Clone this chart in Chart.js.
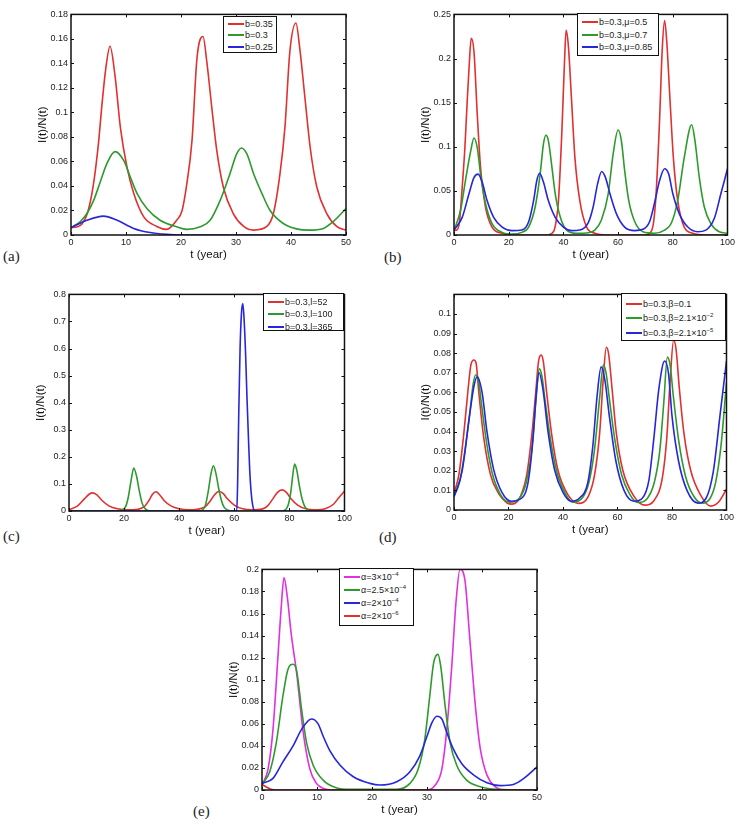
<!DOCTYPE html>
<html>
<head>
<meta charset="utf-8">
<script src="https://cdn.jsdelivr.net/npm/chart.js@4.4.0/dist/chart.umd.min.js"></script>
<style>
body{margin:0;background:#fff;width:744px;height:827px;position:relative;overflow:hidden;font-family:"Liberation Sans",Arial,sans-serif}
.panel{position:absolute}
.lg{position:absolute;border:1.4px solid #111;background:#fff;font-size:9px;color:#222;box-sizing:border-box;padding-left:4px}
.lg div{display:flex;align-items:center;white-space:nowrap}
.lg .sw{display:inline-block;width:16px;height:1.6px;margin-right:1px}
.lg sup{font-size:6px;vertical-align:4px;line-height:0}
.tag{position:absolute;font-family:"Liberation Serif",serif;font-size:15px;line-height:15px;color:#222}
</style>
</head>
<body>
<script>
// (a) b = 0.35 / 0.3 / 0.25, t in years
var aLabels = ['b=0.35', 'b=0.3', 'b=0.25'];
var aRedT = [0,1,2,3,4,5,5.6,6.3,7.1,8,9,10.2,11.4,13.2,15.6,17.4,19.2,20.2,21,22,22.9,24,24.7,25.6,26.5,27.7,29.5,31.4,33.2,35.6,36.8,38,38.9,39.8,40.9,41.6,42.6,43.5,44.7,46.5,48.3,50];
var aRedY = [0.006,0.0065,0.009,0.018,0.039,0.075,0.105,0.135,0.154,0.13,0.087,0.055,0.034,0.015,0.007,0.0046,0.012,0.02,0.04,0.077,0.144,0.162,0.141,0.104,0.069,0.039,0.0175,0.007,0.004,0.007,0.0175,0.05,0.088,0.15,0.173,0.152,0.109,0.071,0.039,0.0175,0.007,0.004];
var aGreenT = [0,1.7,2.9,4.1,5.3,6.5,8,9.6,10.8,12,13.8,16.2,19.2,21,23.5,25.3,27.1,28.9,30.1,31,32,33.2,34.7,36.2,38.6,41,43.2,45.9,47.7,50];
var aGreenY = [0.006,0.011,0.0175,0.028,0.043,0.058,0.068,0.0606,0.047,0.034,0.0216,0.012,0.0067,0.0046,0.0067,0.012,0.028,0.05,0.066,0.071,0.066,0.05,0.034,0.02,0.0094,0.005,0.004,0.0054,0.011,0.0216];
var aBlueT = [0,2.9,5.9,8.4,11.4,14.4,17.4,20,50];
var aBlueY = [0.006,0.012,0.0154,0.012,0.0054,0.002,0.0005,0,0];

// (b) b = 0.3, mu = 0.5 / 0.7 / 0.85
var bLabels = ['b=0.3,\u03bc=0.5', 'b=0.3,\u03bc=0.7', 'b=0.3,\u03bc=0.85'];
var bRedT = [0,1.2,2,3,4,4.8,5.6,6.3,7.3,8.5,9.7,11.5,13.9,17.6,22,34,36.4,37.3,38.2,39.4,40.4,41,41.8,43,44.2,46,48.5,51.5,56,70,72.1,73,73.9,75.2,76.1,77,77.8,79,80.2,81.8,84.2,87.3,92,100];
var bRedY = [0.005,0.006,0.015,0.054,0.1,0.15,0.195,0.223,0.208,0.137,0.077,0.032,0.009,0.002,0,0,0.004,0.015,0.039,0.114,0.196,0.232,0.215,0.152,0.088,0.039,0.009,0.002,0,0,0.004,0.015,0.047,0.133,0.208,0.243,0.219,0.152,0.088,0.039,0.009,0.002,0,0];
var bGreenT = [0,2.4,4.2,6.1,7.3,8.5,9.7,11.5,13.9,17.6,21.2,24.8,27.3,29.7,31.5,32.7,33.6,34.5,35.8,37,38.8,41.2,44.8,49.1,51.5,53.9,56.4,58.2,60,61.2,62.4,63.9,66.1,69.1,73.3,77,79.4,81.8,84.2,86.9,88.1,89.7,91.5,93.9,97,100];
var bGreenY = [0.005,0.028,0.062,0.095,0.11,0.099,0.069,0.036,0.013,0.003,0.001,0.003,0.009,0.032,0.069,0.103,0.113,0.107,0.077,0.047,0.021,0.0056,0.002,0.0026,0.0056,0.017,0.047,0.092,0.119,0.107,0.073,0.039,0.015,0.0037,0.002,0.0056,0.013,0.039,0.088,0.125,0.107,0.065,0.032,0.013,0.0037,0.002];
var bBlueT = [0,3,5.5,7.3,8.8,10.3,12.1,14.5,17.6,21.2,24.8,27.3,29.1,30.3,31.3,32.7,34.5,37,40,43,46,49.1,50.9,52.5,54,55.4,57,59.4,62.4,66.1,69.1,71.5,73.3,75.2,77,78.5,80,82.4,85.5,89.1,92.1,95.2,97.6,100];
var bBlueY = [0.0056,0.02,0.047,0.065,0.069,0.06,0.039,0.02,0.009,0.005,0.0056,0.015,0.039,0.062,0.07,0.06,0.039,0.02,0.009,0.005,0.0056,0.014,0.032,0.058,0.072,0.065,0.047,0.024,0.009,0.005,0.0064,0.015,0.036,0.062,0.075,0.069,0.047,0.024,0.009,0.0037,0.0056,0.019,0.047,0.075];

// (c) b = 0.3, l = 52 / 100 / 365
var cLabels = ['b=0.3,l=52', 'b=0.3,l=100', 'b=0.3,l=365'];
var cRedT = [0,3,5.5,7.3,8.7,10.3,12.1,14.5,17.6,21,25,27.3,29.1,30.3,31.6,32.9,34.5,37,40,43.5,46.5,49.5,51.2,53,54.5,56,57.5,60,63,66.5,70,72,73.8,75.6,77.3,79,80.5,83,86,90,93,96,98,100];
var cRedY = [0.005,0.018,0.044,0.062,0.067,0.058,0.038,0.019,0.008,0.004,0.006,0.016,0.04,0.062,0.071,0.06,0.039,0.019,0.008,0.004,0.006,0.016,0.036,0.062,0.073,0.064,0.045,0.022,0.008,0.004,0.007,0.018,0.042,0.068,0.078,0.068,0.046,0.022,0.008,0.004,0.008,0.025,0.05,0.073];
var cGreenT = [0,17,19,20.5,21.5,22.5,23.5,24.5,25.5,26.5,27.5,29,47,48.5,49.5,50.5,51.5,52.4,53.3,54.3,55.3,56.3,57.5,59,77,78.5,79.5,80.5,81.2,81.9,82.7,83.6,84.6,85.6,86.8,88.5,100];
var cGreenY = [0,0,0.003,0.015,0.05,0.11,0.159,0.13,0.075,0.03,0.01,0.001,0,0.004,0.02,0.07,0.135,0.167,0.14,0.085,0.04,0.014,0.004,0,0,0.004,0.02,0.07,0.13,0.173,0.15,0.095,0.045,0.016,0.004,0,0];
var cBlueT = [0,60.9,61.2,61.6,62.1,62.6,63.1,63.6,64.1,64.6,65.1,65.6,66.1,66.7,67.5,100];
var cBlueY = [0,0,0.1,0.35,0.6,0.73,0.766,0.7,0.58,0.42,0.28,0.15,0.07,0.02,0,0];

// (d) b = 0.3, beta = 0.1 / 2.1e-2 / 2.1e-5
var dLabels = ['b=0.3,\u03b2=0.1', 'b=0.3,\u03b2=2.1\u00d710^-2', 'b=0.3,\u03b2=2.1\u00d710^-5'];
var dRedT = [0,1.8,3.6,5.2,6.2,7.3,8.1,9.1,10.9,13.4,16.4,19.4,21.3,24.3,26.7,28.6,30,31,32,32.8,34,35.8,38.2,41.9,45.6,49.2,51.6,53.5,54.7,55.9,56.7,58,59.5,62,66.2,69.9,73.5,76.5,78.1,79.3,80.6,81.5,82.7,84.4,86.9,90.5,94.2,97.2,100];
var dRedY = [0.0084,0.018,0.039,0.062,0.074,0.0765,0.075,0.06,0.037,0.018,0.0084,0.0037,0.003,0.0067,0.018,0.039,0.06,0.0756,0.079,0.0756,0.06,0.039,0.02,0.0076,0.0034,0.0067,0.018,0.04,0.0655,0.083,0.08,0.062,0.04,0.02,0.0067,0.0025,0.005,0.0168,0.037,0.0655,0.0866,0.082,0.062,0.039,0.02,0.0076,0.002,0.0042,0.0106];
var dGreenT = [0,2,4,6,7,8,9,10,12,14,17,20.5,24,26.5,28.5,30,31.3,32.3,33.5,35.5,38,41,43.5,47,49.5,51.5,53.5,54.8,55.8,57,59,61.5,64.5,67.5,71,73.5,75.5,77,78.3,79.3,80.5,82.5,85,88,91,94,96,98,100];
var dGreenY = [0.007,0.014,0.03,0.052,0.064,0.069,0.066,0.055,0.034,0.019,0.008,0.004,0.006,0.014,0.03,0.055,0.072,0.068,0.055,0.035,0.018,0.008,0.004,0.006,0.014,0.03,0.058,0.074,0.07,0.057,0.036,0.018,0.008,0.0038,0.006,0.014,0.03,0.055,0.078,0.074,0.058,0.035,0.017,0.007,0.0035,0.006,0.014,0.033,0.065];
var dBlueT = [0,3,5.5,7.3,8.5,10.3,12.1,14.5,17.6,21,24.8,27.3,29.1,30.3,31.2,32.7,34.5,37,40,43,46,49.1,50.9,52.5,54,55.4,57,59.4,62.4,66,69.1,71.5,73.3,75.2,77.3,78.7,80,82.4,85.5,89.5,92.5,95.2,97.6,100];
var dBlueY = [0.0067,0.02,0.046,0.063,0.068,0.06,0.04,0.021,0.009,0.0045,0.006,0.015,0.038,0.061,0.07,0.061,0.04,0.02,0.009,0.0045,0.006,0.014,0.032,0.058,0.073,0.066,0.048,0.025,0.01,0.0045,0.006,0.015,0.036,0.062,0.076,0.07,0.048,0.025,0.01,0.0035,0.006,0.02,0.048,0.076];

// (e) alpha = 3e-4 / 2.5e-4 / 2e-4 / 2e-6
var eLabels = ['\u03b1=3\u00d710^-4', '\u03b1=2.5\u00d710^-4', '\u03b1=2\u00d710^-4', '\u03b1=2\u00d710^-6'];
var eMagT = [0,1.1,2,2.9,3.5,4,4.6,5.3,6.3,7.5,8.7,9.9,11.1,13,30,31.5,32.7,33.6,34.5,35.3,36,36.9,37.8,38.8,39.7,40.9,42.4,44,50];
var eMagY = [0.0045,0.019,0.055,0.121,0.166,0.1925,0.175,0.142,0.106,0.052,0.019,0.006,0.0015,0,0,0.0045,0.019,0.055,0.112,0.172,0.2,0.19,0.136,0.076,0.037,0.0135,0.003,0,0];
var eGreenT = [0,1.4,2.6,3.8,4.7,5.65,6.3,7.2,8.1,9.3,11.1,13.5,16,24.5,26.9,28.4,29.6,30.5,31.2,32,32.5,33.3,34.2,35.4,37.2,39.7,42.7,50];
var eGreenY = [0.005,0.0165,0.043,0.085,0.109,0.114,0.108,0.073,0.043,0.0225,0.009,0.002,0.0006,0.0006,0.006,0.019,0.046,0.085,0.115,0.123,0.112,0.076,0.043,0.0225,0.009,0.003,0.0006,0];
var eBlueT = [0,2,3.8,5.65,7.2,9,10.2,11.1,12.3,14.2,16.6,19.6,21.4,24.5,26.9,28.7,29.95,30.9,31.8,32.7,33.6,34.8,36.3,38.5,40.9,43.3,45.7,47.6,50];
var eBlueY = [0.006,0.0105,0.0255,0.04,0.055,0.0644,0.06,0.049,0.036,0.0225,0.012,0.006,0.0045,0.0075,0.0165,0.031,0.048,0.061,0.0668,0.0644,0.052,0.037,0.024,0.0135,0.0066,0.004,0.005,0.0105,0.021];
var eRedT = [0,0.7,1.5,2.5,50];
var eRedY = [0.005,0.003,0.001,0,0];

var red = '#e03030', green = '#2e9a2e', blue = '#2626da', magenta = '#e030e0';

function pts(t, y) {
    return t.map(function(v, i) { return {x: v, y: y[i]}; });
}

function fmtLabel(s) {
    return s.replace(/\^([-0-9]+)/g, function(m, p) { return '<sup>' + p.replace('-', '\u2212') + '</sup>'; });
}

// MATLAB style box with inward ticks on all four sides
var framePlugin = {
    id: 'frame',
    afterDraw: function(chart) {
        var a = chart.chartArea, ctx = chart.ctx, len = 3;
        var xs = chart.scales.x, ys = chart.scales.y;
        ctx.save();
        ctx.strokeStyle = '#111';
        ctx.lineWidth = 1;
        ctx.beginPath();
        xs.ticks.forEach(function(t) {
            var px = Math.round(xs.getPixelForValue(t.value)) + 0.5;
            ctx.moveTo(px, a.bottom); ctx.lineTo(px, a.bottom - len);
            ctx.moveTo(px, a.top); ctx.lineTo(px, a.top + len);
        });
        ys.ticks.forEach(function(t) {
            var py = Math.round(ys.getPixelForValue(t.value)) + 0.5;
            ctx.moveTo(a.left, py); ctx.lineTo(a.left + len, py);
            ctx.moveTo(a.right, py); ctx.lineTo(a.right - len, py);
        });
        ctx.stroke();
        ctx.lineWidth = 1.5;
        ctx.strokeRect(a.left, a.top, a.right - a.left, a.bottom - a.top);
        ctx.restore();
    }
};

var tickFont = {family: 'Liberation Sans', size: 9};
var titleFont = {family: 'Liberation Sans', size: 11.5};

function makePanel(p) {
    var padL = 42, padT = 6, padR = 8, padB = 30;
    var w = p.box[2] - p.box[0], h = p.box[3] - p.box[1];
    var div = document.createElement('div');
    div.className = 'panel';
    div.style.left = (p.box[0] - padL) + 'px';
    div.style.top = (p.box[1] - padT) + 'px';
    div.style.width = (w + padL + padR) + 'px';
    div.style.height = (h + padT + padB) + 'px';
    var cv = document.createElement('canvas');
    div.appendChild(cv);
    document.body.appendChild(div);

    new Chart(cv, {
        type: 'line',
        data: {
            datasets: p.series.map(function(s) {
                return {
                    label: s.label,
                    data: pts(s.t, s.y),
                    borderColor: s.color,
                    borderWidth: 1.6,
                    pointRadius: 0,
                    fill: false,
                    cubicInterpolationMode: 'monotone',
                    order: s.order
                };
            })
        },
        options: {
            responsive: true,
            maintainAspectRatio: false,
            animation: false,
            layout: {padding: {left: 0, top: padT, right: padR, bottom: 0}},
            plugins: {legend: {display: false}, tooltip: {enabled: false}},
            scales: {
                x: {
                    type: 'linear', min: 0, max: p.xMax,
                    ticks: {stepSize: p.xStep, color: '#222', font: tickFont, padding: 2, maxRotation: 0, autoSkip: false},
                    grid: {display: false, drawTicks: false},
                    border: {display: false},
                    title: {display: true, text: 't (year)', color: '#111', font: titleFont, padding: {top: 0, bottom: 3}},
                    afterFit: function(s) { s.height = padB; }
                },
                y: {
                    type: 'linear', min: 0, max: p.yMax,
                    ticks: {
                        stepSize: p.yStep, color: '#222', font: tickFont, padding: 3, autoSkip: false,
                        callback: function(v) { return v > p.yLabelMax + 1e-9 ? '' : String(+v.toFixed(3)); }
                    },
                    grid: {display: false, drawTicks: false},
                    border: {display: false},
                    title: {display: true, text: 'I(t)/N(t)', color: '#111', font: titleFont, padding: {top: 7, bottom: 0}},
                    afterFit: function(s) { s.width = padL; }
                }
            }
        },
        plugins: [framePlugin]
    });

    var lg = document.createElement('div');
    lg.className = 'lg';
    lg.style.left = p.legend[0] + 'px';
    lg.style.top = p.legend[1] + 'px';
    lg.style.width = p.legend[2] + 'px';
    lg.style.height = p.legend[3] + 'px';
    lg.style.paddingTop = p.legend[5] + 'px';
    p.series.forEach(function(s) {
        var row = document.createElement('div');
        row.style.height = p.legend[4] + 'px';
        row.innerHTML = '<span class="sw" style="background:' + s.color + '"></span><span>' + fmtLabel(s.label) + '</span>';
        lg.appendChild(row);
    });
    document.body.appendChild(lg);

    var tag = document.createElement('div');
    tag.className = 'tag';
    tag.style.left = p.tag[0] + 'px';
    tag.style.top = (p.tag[1] - 8) + 'px';
    tag.textContent = p.tag[2];
    document.body.appendChild(tag);
}

makePanel({
    box: [71, 12, 346, 235], xMax: 50, xStep: 10, yMax: 0.18, yStep: 0.02, yLabelMax: 0.18,
    legend: [223, 16, 54, 37, 11.5, 1], tag: [3, 257, '(a)'],
    series: [
        {label: aLabels[0], t: aRedT, y: aRedY, color: red, order: 2},
        {label: aLabels[1], t: aGreenT, y: aGreenY, color: green, order: 1},
        {label: aLabels[2], t: aBlueT, y: aBlueY, color: blue, order: 0}
    ]
});
makePanel({
    box: [454, 12, 729, 235], xMax: 100, xStep: 20, yMax: 0.25, yStep: 0.05, yLabelMax: 0.25,
    legend: [577, 13, 82, 43, 12.5, 2], tag: [384, 258, '(b)'],
    series: [
        {label: bLabels[0], t: bRedT, y: bRedY, color: red, order: 2},
        {label: bLabels[1], t: bGreenT, y: bGreenY, color: green, order: 1},
        {label: bLabels[2], t: bBlueT, y: bBlueY, color: blue, order: 0}
    ]
});
makePanel({
    box: [69, 292, 346, 511], xMax: 100, xStep: 20, yMax: 0.8, yStep: 0.1, yLabelMax: 0.8,
    legend: [263, 293, 81, 38, 12.5, 1.5], tag: [3, 537, '(c)'],
    series: [
        {label: cLabels[0], t: cRedT, y: cRedY, color: red, order: 2},
        {label: cLabels[1], t: cGreenT, y: cGreenY, color: green, order: 1},
        {label: cLabels[2], t: cBlueT, y: cBlueY, color: blue, order: 0}
    ]
});
makePanel({
    box: [454, 292, 728, 510], xMax: 100, xStep: 20, yMax: 0.11, yStep: 0.01, yLabelMax: 0.1,
    legend: [621, 293, 105, 48, 14.5, 2.5], tag: [379, 538, '(d)'],
    series: [
        {label: dLabels[0], t: dRedT, y: dRedY, color: red, order: 2},
        {label: dLabels[1], t: dGreenT, y: dGreenY, color: green, order: 1},
        {label: dLabels[2], t: dBlueT, y: dBlueY, color: blue, order: 0}
    ]
});
makePanel({
    box: [262, 567, 537, 790], xMax: 50, xStep: 10, yMax: 0.2, yStep: 0.02, yLabelMax: 0.2,
    legend: [339, 568, 75, 58, 13, 1.5], tag: [193, 812, '(e)'],
    series: [
        {label: eLabels[0], t: eMagT, y: eMagY, color: magenta, order: 3},
        {label: eLabels[1], t: eGreenT, y: eGreenY, color: green, order: 2},
        {label: eLabels[2], t: eBlueT, y: eBlueY, color: blue, order: 1},
        {label: eLabels[3], t: eRedT, y: eRedY, color: red, order: 0}
    ]
});
</script>
</body>
</html>
